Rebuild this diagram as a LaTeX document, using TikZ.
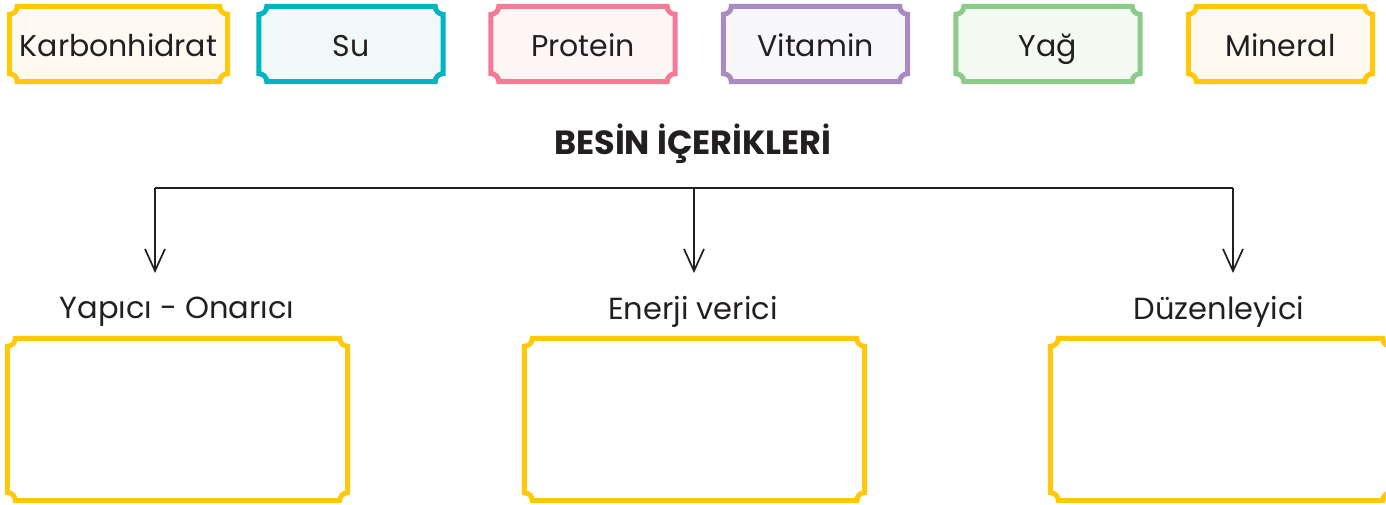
\documentclass[tikz,border=0pt]{standalone}
\usepackage{fontspec}
\setmainfont{Poppins}
\usetikzlibrary{arrows.meta,backgrounds}
\definecolor{gold}{HTML}{FFC80A}
\definecolor{cream}{HTML}{FEFAF1}
\definecolor{teal}{HTML}{00B4C1}
\definecolor{tealfill}{HTML}{F0F9F8}
\definecolor{pinkc}{HTML}{F37B95}
\definecolor{pinkfill}{HTML}{FDF6F7}
\definecolor{purp}{HTML}{A98BC2}
\definecolor{purpfill}{HTML}{F7F6FA}
\definecolor{greenc}{HTML}{8DCB8A}
\definecolor{greenfill}{HTML}{F4FAF2}
\definecolor{ink}{HTML}{231F20}
\newcommand\tkt[3]{%
  \path[draw=#2, fill=#3, line width=5pt]
    ([xshift=8pt]#1.north west) -- ([xshift=-8pt]#1.north east)
    arc[start angle=180,end angle=270,radius=8pt]
    -- ([yshift=8pt]#1.south east)
    arc[start angle=90,end angle=180,radius=8pt]
    -- ([xshift=8pt]#1.south west)
    arc[start angle=0,end angle=90,radius=8pt]
    -- ([yshift=-8pt]#1.north west)
    arc[start angle=-90,end angle=0,radius=8pt] -- cycle;}
\tikzset{
  chip/.style={inner sep=0pt, minimum width=184pt, minimum height=75pt, text height=30pt, text depth=4pt, text=ink, font=\fontsize{30}{36}\selectfont},
  bigbox/.style={inner sep=0pt, minimum width=340pt, minimum height=162pt},
  lbl/.style={inner sep=0pt, anchor=base, text=ink, font=\fontsize{30.5}{36}\selectfont},
  ttl/.style={inner sep=0pt, anchor=base, text=ink, font=\fontsize{33.5}{40}\selectfont\bfseries},
  conn/.style={line width=1.7pt, draw=ink},
  arr/.style={conn, -{Straight Barb[length=22pt,width=20pt,line width=1.7pt]}}
}
\begin{document}
\begin{tikzpicture}[x=1pt,y=-1pt]
\useasboundingbox (0,0) rectangle (1386,505);
\clip (0,0) rectangle (1386,505);
% top chips
\node[chip, minimum width=218pt] (karb) at (118.5,44) {Karbonhidrat};
\node[chip] (su) at (351,44) {Su};
\node[chip] (prot) at (583,44) {Protein};
\node[chip] (vit) at (815.5,44) {Vitamin};
\node[chip] (yag) at (1048,44) {Yağ};
\node[chip] (min) at (1280.5,44) {Mineral};
% title
\node[ttl] (title) at (693,155) {BESİN İÇERİKLERİ};
% branch points
\coordinate (hl) at (155,188);
\coordinate (hm) at (694,188);
\coordinate (hr) at (1233,188);
\coordinate (tl) at (155,273);
\coordinate (tm) at (694,273);
\coordinate (tr) at (1233,273);
% labels
\node[lbl] (l1) at (177,318) {Yapıcı - Onarıcı};
\node[lbl] (l2) at (693,319) {Enerji verici};
\node[lbl] (l3) at (1219,319) {Düzenleyici};
% answer boxes
\node[bigbox] (b1) at (177.5,419.5) {};
\node[bigbox] (b2) at (694.5,419.5) {};
\node[bigbox] (b3) at (1220.5,419.5) {};
\begin{scope}[on background layer]
\tkt{karb}{gold}{cream}
\tkt{su}{teal}{tealfill}
\tkt{prot}{pinkc}{pinkfill}
\tkt{vit}{purp}{purpfill}
\tkt{yag}{greenc}{greenfill}
\tkt{min}{gold}{cream}
\tkt{b1}{gold}{white}
\tkt{b2}{gold}{white}
\tkt{b3}{gold}{white}
\end{scope}
% connectors
\draw[conn] (hl) -- (hr);
\draw[arr] (hl) -- (tl);
\draw[arr] (hm) -- (tm);
\draw[arr] (hr) -- (tr);
\end{tikzpicture}
\end{document}
